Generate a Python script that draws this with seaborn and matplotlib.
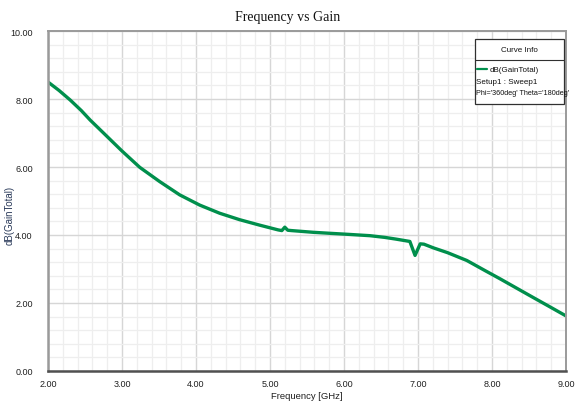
import matplotlib
matplotlib.use("Agg")
import matplotlib.pyplot as plt
import seaborn as sns
import pandas as pd
import numpy as np
from matplotlib.ticker import MultipleLocator, FormatStrFormatter
from matplotlib.patches import Rectangle
from matplotlib.lines import Line2D

freq_ghz = [2.00, 2.15, 2.30, 2.45, 2.57, 2.75, 3.00, 3.24, 3.51, 3.78, 4.05, 4.32,
            4.59, 4.86, 5.11, 5.16, 5.20, 5.24, 5.29, 5.58, 5.81, 6.05, 6.35, 6.55,
            6.70, 6.89, 6.96, 7.03, 7.08, 7.21, 7.40, 7.66, 7.90, 8.11, 8.33, 8.55,
            8.78, 9.00]
gain_db = [8.50, 8.25, 7.97, 7.66, 7.38, 7.00, 6.47, 5.99, 5.57, 5.18, 4.88, 4.64,
           4.45, 4.29, 4.15, 4.13, 4.23, 4.14, 4.13, 4.08, 4.05, 4.02, 3.98, 3.93,
           3.88, 3.81, 3.40, 3.74, 3.73, 3.62, 3.48, 3.25, 2.96, 2.71, 2.44, 2.17,
           1.89, 1.62]

title = "Frequency vs Gain"
x_label = "Frequency [GHz]"
y_label = "dB(GainTotal)"
legend_title = "Curve Info"
legend_lines = ["dB(GainTotal)", "Setup1 : Sweep1", "Phi='360deg' Theta='180deg'"]

sns.set_style("white")
sans = ["Liberation Sans", "DejaVu Sans"]
plt.rcParams["font.family"] = sans

df = pd.DataFrame({"freq": freq_ghz, "gain": gain_db})

fig = plt.figure(figsize=(5.76, 4.06), dpi=100)
W, H = 576, 406
ax = fig.add_axes([48 / W, 1 - 372 / H, 518 / W, 340 / H])

green = "#008f4c"
sns.lineplot(data=df, x="freq", y="gain", ax=ax, color=green, linewidth=2.4,
             legend=False)

ax.set_xlim(2, 9)
ax.set_ylim(0, 10)
ax.xaxis.set_major_locator(MultipleLocator(1))
ax.xaxis.set_minor_locator(MultipleLocator(0.2))
ax.yaxis.set_major_locator(MultipleLocator(2))
ax.yaxis.set_minor_locator(MultipleLocator(0.4))
ax.xaxis.set_major_formatter(FormatStrFormatter("%.2f"))
ax.yaxis.set_major_formatter(FormatStrFormatter("%.2f"))

ax.grid(which="major", color="#d6d6d6", linewidth=1.0)
ax.grid(which="minor", color="#eeeeee", linewidth=0.9)
ax.set_axisbelow(True)

for s in ["left", "bottom"]:
    ax.spines[s].set_color("#9a9a9a")
    ax.spines[s].set_linewidth(1.8)
for s in ["top", "right"]:
    ax.spines[s].set_color("#9a9a9a")
    ax.spines[s].set_linewidth(1.4)
ax.spines["bottom"].set_color("#505050")

ax.tick_params(axis="y", which="major", length=9, width=1.0, color="#404040",
               labelsize=6.5, pad=2, labelcolor="#202020")
ax.tick_params(axis="y", which="minor", length=4, width=1.0, color="#404040")
ax.tick_params(axis="x", which="major", length=3, width=1.0, color="#404040",
               labelsize=6.5, pad=3, labelcolor="#202020")
ax.tick_params(axis="x", which="minor", length=2, width=0.8, color="#404040")

ax.set_xlabel(x_label, fontsize=6.8, color="#202020", labelpad=2)
ax.set_ylabel("")
fig.text(10 / W, 1 - 215 / H, y_label, rotation=90, ha="center", va="center",
         fontsize=7, color="#2a3a5a")

fig.text(0.5, 1 - 17 / H, title, ha="center", va="center", fontsize=10,
         family=["Liberation Serif", "DejaVu Serif"], color="#111111")

# legend box (Curve Info)
def ax_xy(px, py):
    return ((px - 48) / 518, (372 - py) / 340)

x0, y0 = ax_xy(475, 105)
x1, y1 = ax_xy(564, 40)
ax.add_patch(Rectangle((x0, y0), x1 - x0, y1 - y0, transform=ax.transAxes,
                       facecolor="white", edgecolor="#303030", linewidth=0.9,
                       zorder=5))
_, ys = ax_xy(0, 60.5)
ax.add_line(Line2D([x0, x1], [ys, ys], transform=ax.transAxes, color="#303030",
                   linewidth=0.8, zorder=6))
cx, cy = ax_xy(519.5, 50.5)
ax.text(cx, cy, legend_title, transform=ax.transAxes, ha="center", va="center",
        fontsize=5.8, color="#111111", zorder=7)
lx0, ly = ax_xy(477, 70)
lx1, _ = ax_xy(487, 70)
ax.add_line(Line2D([lx0, lx1], [ly, ly], transform=ax.transAxes, color=green,
                   linewidth=1.6, zorder=7))
tx, _ = ax_xy(490, 70)
ax.text(tx, ly, legend_lines[0], transform=ax.transAxes, ha="left", va="center",
        fontsize=5.8, color="#111111", zorder=7)
for txt, py in zip(legend_lines[1:], [82, 93.5]):
    tx, ty = ax_xy(476.5, py)
    ax.text(tx, ty, txt, transform=ax.transAxes, ha="left", va="center",
            fontsize=5.2 if "Phi" in txt else 5.8, color="#111111", zorder=7)

fig.savefig("out.png", dpi=100, facecolor="white")
